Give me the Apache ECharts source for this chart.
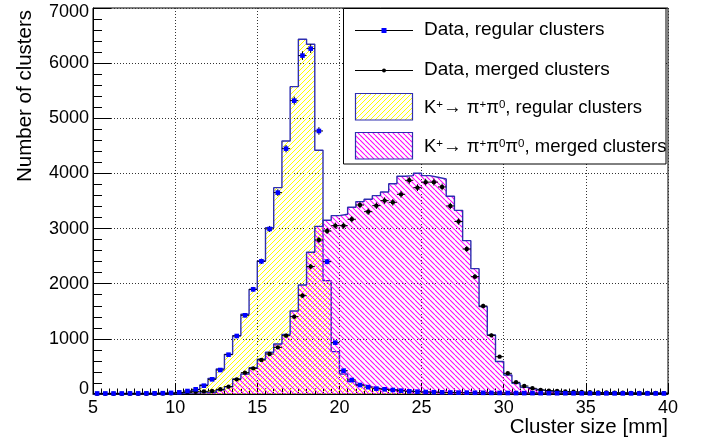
<!DOCTYPE html>
<html><head><meta charset="utf-8">
<script src="https://cdn.jsdelivr.net/npm/echarts@6/dist/echarts.min.js"></script>
<style>html,body{margin:0;padding:0;background:#fff}#c{width:707px;height:440px}</style>
</head><body><div id="c"></div>
<script>
// Histogram binning: 70 bins of 0.5 mm from 5 to 40 mm
const binStart = 5;
const binWidth = 0.5;
const xTickLabels = [5, 10, 15, 20, 25, 30, 35, 40];
const yTickLabels = [0, 1000, 2000, 3000, 4000, 5000, 6000, 7000];

// Data, regular clusters (blue squares)
const dataRegular = [10,10,10,10,11,11,12,13,15,20,
  30,54,85,151,266,435,713,1052,1427,1898,
  2406,2993,3652,4449,5320,6137,6263,4770,2400,931,
  423,254,163,125,97,85,73,60,48,42,
  36,32,30,27,25,24,22,21,20,19,
  18,17,16,16,15,15,14,14,13,13,
  12,12,12,11,11,11,10,10,10,10];

// Data, merged clusters (black dots)
const dataMerged = [3,3,3,3,4,4,5,6,8,12,
  20,30,42,48,54,85,133,266,387,465,
  617,725,846,1058,1403,1784,2310,2793,2956,3053,
  3053,3168,3428,3307,3416,3507,3476,3621,3875,3742,
  3842,3842,3755,3410,3128,2630,2128,1596,1064,677,
  375,212,145,103,73,60,54,45,40,36,
  32,28,26,24,22,20,19,18,17,16];

// MC K+ -> pi+ pi0, regular clusters (yellow hatch)
const mcRegular = [10,10,10,10,11,11,12,13,15,20,
  30,54,85,163,284,453,719,1058,1445,1898,
  2412,3017,3742,4588,5574,6433,6342,4420,2056,768,
  363,224,163,130,103,85,73,60,50,42,
  36,32,30,27,25,24,22,21,20,19,
  18,17,16,16,15,15,14,14,13,13,
  12,12,12,11,11,11,10,10,10,10];

// MC K+ -> pi+ pi0 pi0, merged clusters (magenta hatch)
const mcMerged = [2,2,2,2,3,3,4,5,6,8,
  12,16,20,25,30,73,133,272,363,478,
  629,756,907,1082,1505,1977,2570,3040,3150,3235,
  3259,3386,3489,3531,3597,3662,3812,3950,3960,4002,
  3960,3930,3900,3585,3330,2781,2273,1584,1070,590,
  345,195,121,85,65,50,42,36,32,28,
  25,22,20,18,17,16,15,14,13,12];

const FONT = "'Liberation Sans', Arial, Helvetica, sans-serif";
const OUTLINE = '#2e2eb0';

function hatch(color, dir, lw, size) {
  const c = document.createElement('canvas');
  c.width = size; c.height = size;
  const g = c.getContext('2d');
  g.strokeStyle = color; g.lineWidth = lw;
  g.beginPath();
  for (let k = -1; k <= 1; k++) {
    if (dir > 0) { g.moveTo(k * size, size); g.lineTo(k * size + size, 0); }
    else { g.moveTo(k * size, 0); g.lineTo(k * size + size, size); }
  }
  g.stroke();
  return c;
}
const yellowPat = { image: hatch('#ffff00', 1, 1.0, 5), repeat: 'repeat' };
const pinkPat = { image: hatch('#ff00ff', -1, 1.05, 5), repeat: 'repeat' };

function stepData(vals) {
  const pts = [[binStart, 0]];
  vals.forEach((v, i) => pts.push([binStart + binWidth * i, v]));
  const end = binStart + binWidth * vals.length;
  pts.push([end, vals[vals.length - 1]]);
  pts.push([end, 0]);
  return pts;
}
function centers(vals) {
  return vals.map((v, i) => [binStart + binWidth * (i + 0.5), v]);
}
function pointRenderer(kind) {
  return function (params, api) {
    const x = api.value(0), y = api.value(1);
    const p = api.coord([x, y]);
    const l = api.coord([x - binWidth / 2, y]);
    const r = api.coord([x + binWidth / 2, y]);
    const e = Math.sqrt(y);
    const t = api.coord([x, y + e]);
    const b = api.coord([x, Math.max(0, y - e)]);
    const col = '#000';
    const children = [
      { type: 'line', shape: { x1: l[0], y1: p[1], x2: r[0], y2: p[1] }, style: { stroke: col, lineWidth: 1 } },
      { type: 'line', shape: { x1: p[0], y1: t[1], x2: p[0], y2: b[1] }, style: { stroke: col, lineWidth: 1 } }
    ];
    if (kind === 'sq') children.push({ type: 'rect', shape: { x: p[0] - 2.3, y: p[1] - 2.3, width: 4.6, height: 4.6 }, style: { fill: '#0000ff' } });
    else children.push({ type: 'circle', shape: { cx: p[0], cy: p[1], r: 2.2 }, style: { fill: '#000' } });
    return { type: 'group', children };
  };
}

const chart = echarts.init(document.getElementById('c'), null, { renderer: 'canvas' });

const supRich = {
  n: { fontSize: 18.5, fontFamily: FONT, color: '#000' },
  s: { fontSize: 11.5, fontFamily: FONT, color: '#000', verticalAlign: 'top' }
};

chart.setOption({
  animation: false,
  backgroundColor: '#fff',
  grid: { left: 93, right: 39, top: 8, bottom: 46, show: true, borderColor: '#000', borderWidth: 1, backgroundColor: 'transparent' },
  xAxis: {
    type: 'value', min: 5, max: 40, interval: 5,
    axisLine: { lineStyle: { color: '#000', width: 1 } },
    axisTick: { inside: true, length: 11, lineStyle: { color: '#000' } },
    minorTick: { show: true, splitNumber: 10, length: 5.5, lineStyle: { color: '#000' } },
    splitLine: { show: true, lineStyle: { color: '#333', type: [1, 2], width: 1 } },
    axisLabel: { fontSize: 18, fontFamily: FONT, color: '#000', margin: 5,
      formatter: v => xTickLabels.includes(v) ? String(v) : '' }
  },
  yAxis: {
    type: 'value', min: 0, max: 7000, interval: 1000,
    axisLine: { show: true, lineStyle: { color: '#000', width: 1 } },
    axisTick: { show: true, inside: true, length: 18, lineStyle: { color: '#000' } },
    minorTick: { show: true, splitNumber: 5, length: 9, lineStyle: { color: '#000' } },
    splitLine: { show: true, lineStyle: { color: '#333', type: [1, 2], width: 1 } },
    axisLabel: { fontSize: 18, fontFamily: FONT, color: '#000', margin: 4,
      formatter: v => v === 0 ? '{z|0}' : (v === 7000 ? '{t|7000}' : (yTickLabels.includes(v) ? String(v) : '')),
      rich: {
        z: { fontSize: 18, fontFamily: FONT, color: '#000', padding: [0, 0, 10, 0] },
        t: { fontSize: 18, fontFamily: FONT, color: '#000', padding: [8, 0, 0, 0] }
      }
    }
  },
  series: [
    { type: 'line', step: 'end', data: stepData(mcRegular), symbol: 'none', z: 2,
      lineStyle: { color: OUTLINE, width: 1.4 }, areaStyle: { color: yellowPat, opacity: 1 } },
    { type: 'line', step: 'end', data: stepData(mcMerged), symbol: 'none', z: 3,
      lineStyle: { color: OUTLINE, width: 1.4 }, areaStyle: { color: pinkPat, opacity: 1 } },
    { type: 'custom', data: centers(dataMerged), renderItem: pointRenderer('dot'), z: 5 },
    { type: 'custom', data: centers(dataRegular), renderItem: pointRenderer('sq'), z: 6 }
  ],
  graphic: [
    { type: 'text', x: 668, y: 427, z: 10,
      style: { text: 'Cluster size [mm]', font: '20.5px ' + FONT, fill: '#000', align: 'right', verticalAlign: 'middle' } },
    { type: 'text', x: 25, y: 96, rotation: Math.PI / 2, z: 10,
      style: { text: 'Number of clusters', font: '20.5px ' + FONT, fill: '#000', align: 'center', verticalAlign: 'middle' } },
    // legend box
    { type: 'rect', z: 20, shape: { x: 343.5, y: 8.5, width: 322.5, height: 155.5 },
      style: { fill: '#fff', stroke: '#000', lineWidth: 1 } },
    { type: 'line', z: 21, shape: { x1: 355, y1: 30.5, x2: 413, y2: 30.5 }, style: { stroke: '#000', lineWidth: 1 } },
    { type: 'rect', z: 22, shape: { x: 381.5, y: 28, width: 5, height: 5 }, style: { fill: '#0000ff' } },
    { type: 'text', z: 22, x: 424, y: 30, style: { text: 'Data, regular clusters', font: '19px ' + FONT, fill: '#000', verticalAlign: 'middle' } },
    { type: 'line', z: 21, shape: { x1: 355, y1: 70.5, x2: 413, y2: 70.5 }, style: { stroke: '#000', lineWidth: 1 } },
    { type: 'circle', z: 22, shape: { cx: 384, cy: 70.5, r: 2 }, style: { fill: '#000' } },
    { type: 'text', z: 22, x: 424, y: 70, style: { text: 'Data, merged clusters', font: '19px ' + FONT, fill: '#000', verticalAlign: 'middle' } },
    { type: 'rect', z: 22, shape: { x: 355.5, y: 93.5, width: 57, height: 26.5 }, style: { fill: yellowPat, stroke: OUTLINE, lineWidth: 1.2 } },
    { type: 'text', z: 22, x: 424, y: 108,
      style: { text: '{n|K}{s|+}{n|\u2192 \u03c0}{s|+}{n|\u03c0}{s|0}{n|, regular clusters}', rich: supRich, verticalAlign: 'middle' } },
    { type: 'rect', z: 22, shape: { x: 355.5, y: 132.5, width: 57, height: 26.5 }, style: { fill: pinkPat, stroke: OUTLINE, lineWidth: 1.2 } },
    { type: 'text', z: 22, x: 424, y: 147,
      style: { text: '{n|K}{s|+}{n|\u2192 \u03c0}{s|+}{n|\u03c0}{s|0}{n|\u03c0}{s|0}{n|, merged clusters}', rich: supRich, verticalAlign: 'middle' } }
  ]
});
</script>
</body></html>
